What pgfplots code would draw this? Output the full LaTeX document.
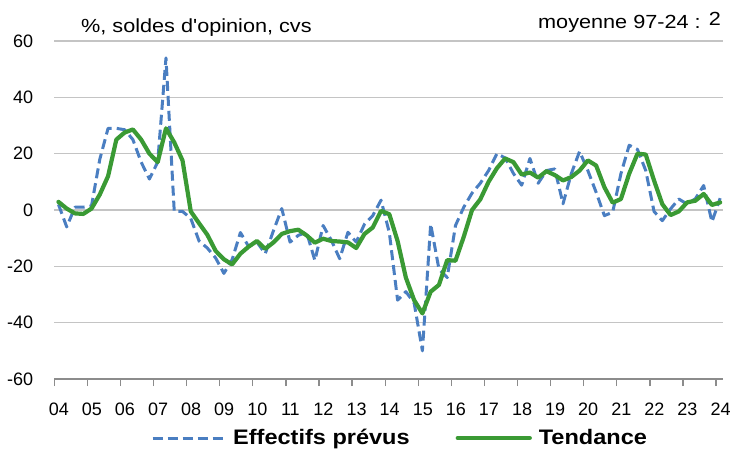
\documentclass[border=0pt]{standalone}
\usepackage{fontspec}
\setmainfont{Liberation Sans}[Ligatures=TeXOff]
\usepackage{pgfplots}
\pgfplotsset{compat=1.18}
\usepackage{pgfplotstable}
\definecolor{eblue}{RGB}{74,126,193}
\definecolor{tgreen}{RGB}{58,154,52}
\definecolor{gridgray}{RGB}{196,196,196}
\definecolor{axgray}{RGB}{140,140,140}

\pgfplotstableread{
t e g
2004.125 2 2.9
2004.375 -6 0.5
2004.625 1 -1.2
2004.875 1 -1.4
2005.125 1.5 0.5
2005.375 18 5.5
2005.625 29 12
2005.875 29 25
2006.125 28.5 27.5
2006.375 25 28.6
2006.625 17 25
2006.875 11 20
2007.125 17 17
2007.375 54 29
2007.625 -0.5 24
2007.875 -0.5 17.6
2008.125 -3 -0.5
2008.375 -11 -4.7
2008.625 -13.5 -8.8
2008.875 -17 -14.5
2009.125 -22.5 -17.5
2009.375 -17.6 -19.3
2009.625 -8 -15.5
2009.875 -13 -13
2010.125 -11.4 -11
2010.375 -15.5 -13.8
2010.625 -7.3 -11.5
2010.875 0.5 -8.5
2011.125 -11.4 -7.5
2011.375 -9 -7
2011.625 -7.9 -9
2011.875 -17.9 -11.6
2012.125 -5.5 -10.2
2012.375 -10.8 -11
2012.625 -17.3 -11.2
2012.875 -7.9 -11.5
2013.125 -11.4 -13.5
2013.375 -5 -8.5
2013.625 -2 -6.2
2013.875 3.5 -0.3
2014.125 -8 -1.5
2014.375 -32 -11
2014.625 -29 -24
2014.875 -33 -32
2015.125 -50 -36.7
2015.375 -5 -29
2015.625 -21 -26.6
2015.875 -24 -17.8
2016.125 -5.5 -18
2016.375 1 -9.5
2016.625 6 0
2016.875 9.5 3.8
2017.125 14 10
2017.375 20 14.8
2017.625 18.5 18.3
2017.875 13 17
2018.125 8.8 12.6
2018.375 18.3 13.3
2018.625 9.5 11.5
2018.875 14 13.8
2019.125 14.6 12.4
2019.375 2.2 10.5
2019.625 12.9 11.7
2019.875 20.8 14
2020.125 14 17.6
2020.375 6.3 15.8
2020.625 -2 8.1
2020.875 -0.8 2.6
2021.125 12.9 3.9
2021.375 23 12.9
2021.625 21.5 20
2021.875 14 19.7
2022.125 -0.5 10.5
2022.375 -3.8 2.1
2022.625 0.4 -1.8
2022.875 3.9 -0.5
2023.125 2.1 2.7
2023.375 4 3.3
2023.625 8.7 5.7
2023.875 -4.2 1.8
2024.125 4.2 2.7
}\data

\begin{document}
\begin{tikzpicture}[x=1pt,y=1pt]
\useasboundingbox (0,0) rectangle (730,450);
\begin{axis}[
  at={(54.3pt,71pt)}, anchor=south west, scale only axis,
  width=668.7pt, height=338pt,
  xmin=2004, xmax=2024.21, ymin=-60, ymax=60,
  axis lines*=left,
  x axis line style={draw=axgray, line width=1.3pt, -},
  y axis line style={draw=none},
  xtick={2004,2005,...,2024},
  xticklabels={04,05,06,07,08,09,10,11,12,13,14,15,16,17,18,19,20,21,22,23,24},
  ytick={-60,-40,-20,0,20,40,60},
  yticklabels={-60,-40,-20,0,20,40,60},
  xtick align=outside,
  x tick style={draw=axgray, line width=1.3pt},
  major tick length=7pt,
  y tick style={draw=none},
  ymajorgrids,
  major grid style={draw=gridgray, line width=1.5pt},
  xticklabel style={font=\fontsize{18}{20}\selectfont, anchor=north, inner sep=0pt, yshift=-17pt, xshift=4.5pt},
  yticklabel style={font=\fontsize{18}{20}\selectfont, anchor=east, inner sep=0pt, xshift=-21pt},
  legend style={at={(0.1446,-0.1746)}, anchor=west, draw=none, fill=none,
    legend columns=2, inner sep=0pt, font=\fontsize{21}{24}\selectfont\bfseries,
    /tikz/every odd column/.append style={column sep=5pt},
    /tikz/every even column/.append style={column sep=44pt}},
  legend cell align=left,
  legend image code/.code={\draw[#1] (0pt,0pt) -- (72pt,0pt);},
]
\addplot[eblue, line width=3pt, dash pattern=on 10pt off 5pt, line join=round] table[x=t,y=e] {\data};
\addlegendentry{\scalebox{1.12}[1]{Effectifs prévus}}
\addplot[tgreen, line width=4.2pt, line join=round, line cap=round] table[x=t,y=g] {\data};
\addlegendentry{\scalebox{1.12}[1]{Tendance}}
\end{axis}
\node[anchor=base west, inner sep=0pt, font=\fontsize{19}{22}\selectfont] at (81,417.7) {\scalebox{1.14}[1]{\%, soldes d'opinion, cvs}};
\node[anchor=base east, inner sep=0pt, font=\fontsize{19}{22}\selectfont] at (721,421.7) {\scalebox{1.14}[1]{moyenne 97-24 : \raisebox{3pt}{2}}};
\end{tikzpicture}
\end{document}
